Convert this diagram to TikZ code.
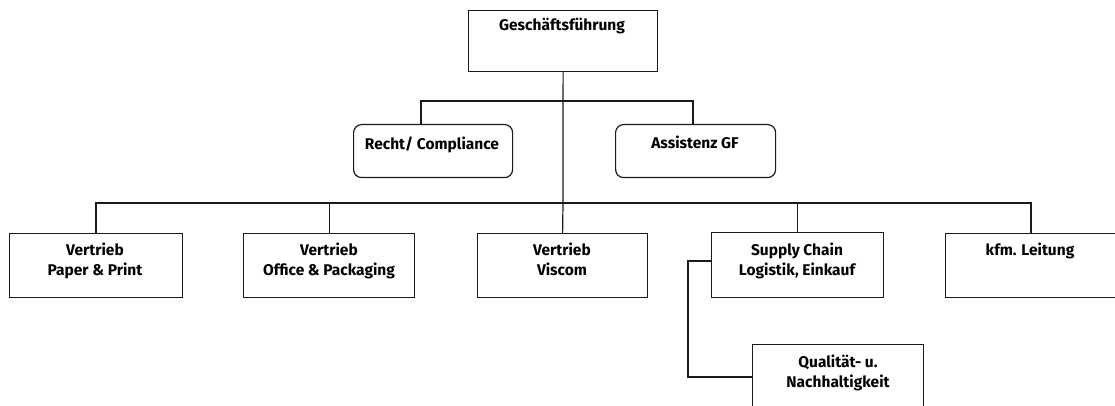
\documentclass[tikz,border=0pt]{standalone}
\usepackage{fontspec}
\setmainfont{Fira Sans}
\usetikzlibrary{calc}
\definecolor{ink}{HTML}{1A1A1A}
\tikzset{
  box/.style={draw=ink, line width=1.2pt, fill=white, anchor=north west, inner sep=0pt},
  rbox/.style={box, rounded corners=8pt},
  lbl/.style={anchor=base, inner sep=0pt, align=center, text=black,
              font=\fontsize{15.5}{20}\selectfont\bfseries},
  conn/.style={draw=ink, line width=1.2pt},
}
\begin{document}
\begin{tikzpicture}[x=1pt,y=-1pt]
\useasboundingbox (0,0) rectangle (1115,406);
% boxes
\node[box, minimum width=189pt, minimum height=61pt] (gf) at (468,10) {};
\node[rbox, minimum width=159pt, minimum height=53pt] (recht) at (353,124) {};
\node[rbox, minimum width=160pt, minimum height=53pt] (assist) at (615,124) {};
\node[box, minimum width=173pt, minimum height=64pt] (paper) at (9,233) {};
\node[box, minimum width=171pt, minimum height=64pt] (office) at (243,233) {};
\node[box, minimum width=170pt, minimum height=64pt] (viscom) at (477,233) {};
\node[box, minimum width=172pt, minimum height=65pt] (supply) at (711,232) {};
\node[box, minimum width=172pt, minimum height=64pt] (kfm) at (945,233) {};
\node[box, minimum width=171pt, minimum height=64pt] (qual) at (752,344) {};
% labels
\node[lbl] (tgf) at (562,31) {Geschäftsführung};
\node[lbl] (trecht) at (432,150) {Recht/ Compliance};
\node[lbl] (tassist) at (695,149) {Assistenz GF};
\node[lbl] (tpaper1) at (95,255) {Vertrieb};
\node[lbl] (tpaper2) at (95,275) {Paper \& Print};
\node[lbl] (toffice1) at (329,255) {Vertrieb};
\node[lbl] (toffice2) at (329,275) {Office \& Packaging};
\node[lbl] (tviscom1) at (562,255) {Vertrieb};
\node[lbl] (tviscom2) at (562,275) {Viscom};
\node[lbl] (tsupply1) at (797,255) {Supply Chain};
\node[lbl] (tsupply2) at (797,275) {Logistik, Einkauf};
\node[lbl] (tkfm) at (1030,255) {kfm. Leitung};
\node[lbl] (tqual1) at (838,367) {Qualität- u.};
\node[lbl] (tqual2) at (838,387) {Nachhaltigkeit};
% connector points
\coordinate (j1) at (563,101);
\coordinate (j2) at (563,203);
\coordinate (rtop) at (421,124);
\coordinate (atop) at (693,124);
\coordinate (ptop) at (96,233);
\coordinate (ktop) at (1031,233);
\coordinate (sside) at (711,261);
\coordinate (qside) at (752,377);
% connectors
\draw[conn] (gf.south) -- (j2);
\draw[conn] (rtop) |- (j1) -| (atop);
\draw[conn] (ptop) |- (j2) -| (ktop);
\draw[conn] (office.north) -- (office.north |- j2);
\draw[conn] (viscom.north) -- (j2);
\draw[conn] (supply.north) -- (supply.north |- j2);
\draw[conn] (sside) -- ++(-23,0) |- (qside);
\end{tikzpicture}
\end{document}
